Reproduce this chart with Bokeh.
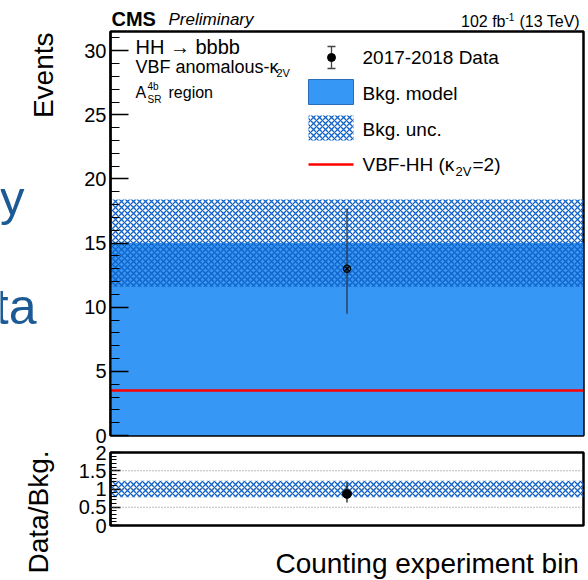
import math
from bokeh.plotting import figure
from bokeh.models import Range1d, SingleIntervalTicker, NumeralTickFormatter, Label, Span
from bokeh.layouts import column, row
from bokeh.embed import file_html
from bokeh.resources import INLINE

# ---------------- data ----------------
bin_edges = [0.0, 1.0]
bkg_model = [15.0]
bkg_unc = [3.4]
data_obs = [13.0]
data_err_lo = [3.5]
data_err_hi = [4.7]
signal_vbf = [3.5]
ratio_ref_lines = [0.5, 1.0, 1.5]

# ---------------- layout constants (pixels of the 588x580 page) ----------------
W, H = 588, 580
LEFT_W = 70                 # strip left of the panels (y titles)
HEAD_H = 30                 # strip above the panels (CMS header)
FRAME_L, FRAME_R = 110, 583
MAIN_TOP, MAIN_BOT = 31, 435
MAIN_FIG_BOT = 445
RATIO_TOP, RATIO_BOT = 452, 525
RATIO_FIG_BOT = 537
Y_MAX = 31.5
R_MAX = 2.0
BASE_SHIFT = 0.34           # label anchor -> baseline correction (fraction of font size)

FONT = "Liberation Sans"
BLUE = "#3797f5"
HATCH = "#0f63c8"
TXT = "black"
HATCH_KW = dict(hatch_pattern="diagonal_cross", hatch_color=HATCH, hatch_scale=6, hatch_weight=1.3)

x0 = bin_edges[:-1]
x1 = bin_edges[1:]
xc = [(a + b) / 2 for a, b in zip(x0, x1)]


def mx(px):
    return (px - FRAME_L) / (FRAME_R - FRAME_L)


def my(py):
    return (MAIN_BOT - py) / (MAIN_BOT - MAIN_TOP) * Y_MAX


def lab(fig, conv, px, py, text, size, align="left", style="normal", color=TXT, rotated=False):
    """px, py: page pixel position of the text baseline start/end."""
    if rotated:
        px -= BASE_SHIFT * size
    else:
        py -= BASE_SHIFT * size
    x, y = conv(px, py)
    fig.add_layout(Label(x=x, y=y, text=text, text_font=FONT, text_font_size=f"{size}px",
                         text_font_style=style, text_color=color, text_align=align,
                         text_baseline="alphabetic", angle=math.pi / 2 if rotated else 0.0))


def text_fig(w, h):
    f = figure(width=w, height=h, output_backend="svg", toolbar_location=None, title=None,
               x_axis_location=None, y_axis_location=None,
               x_range=Range1d(0, w), y_range=Range1d(0, h), min_border=0)
    f.grid.visible = False
    f.outline_line_color = None
    return f


def style_axis(ax, major_in, minor_in):
    ax.major_tick_in = major_in
    ax.major_tick_out = 0
    ax.minor_tick_in = minor_in
    ax.minor_tick_out = 0
    ax.axis_line_width = 2
    ax.axis_line_color = "black"
    ax.major_tick_line_color = "black"
    ax.minor_tick_line_color = "black"
    ax.major_tick_line_width = 1.5
    ax.minor_tick_line_width = 1.2
    ax.major_label_text_font = FONT
    ax.major_label_text_font_size = "20px"
    ax.major_label_text_color = TXT
    ax.major_label_standoff = 4


PANEL_W = W - LEFT_W
main_conv = lambda px, py: (mx(px), my(py))
head_conv = lambda px, py: (px, HEAD_H - py)
left_conv = lambda px, py: (px, H - py)
bottom_conv = lambda px, py: (px - LEFT_W, H - py)

# ---------------- main panel ----------------
p = figure(width=PANEL_W, height=MAIN_FIG_BOT - HEAD_H, output_backend="svg", toolbar_location=None,
           title=None, x_axis_location=None,
           x_range=Range1d(0, 1), y_range=Range1d(0, Y_MAX),
           min_border_left=FRAME_L - LEFT_W, min_border_right=W - FRAME_R,
           min_border_top=MAIN_TOP - HEAD_H, min_border_bottom=MAIN_FIG_BOT - MAIN_BOT)
p.grid.visible = False
p.outline_line_color = "black"
p.outline_line_width = 2.5
p.outline_line_alpha = 1
p.yaxis.ticker = SingleIntervalTicker(interval=5, num_minor_ticks=5)
style_axis(p.yaxis[0], 18, 9)

unc_lo = [b - u for b, u in zip(bkg_model, bkg_unc)]
unc_hi = [b + u for b, u in zip(bkg_model, bkg_unc)]

p.quad(left=x0, right=x1, bottom=[0] * len(x0), top=bkg_model,
       fill_color=BLUE, line_color=None)
p.quad(left=x0, right=x1, bottom=unc_lo, top=unc_hi, fill_alpha=0, line_color=None, **HATCH_KW)

sx, sy = [], []
for a, b, s in zip(x0, x1, signal_vbf):
    sx += [a, a, b]
    sy += [0, s, s]
p.line(sx, sy, line_color="red", line_width=2.5)

p.segment(xc, [d - e for d, e in zip(data_obs, data_err_lo)],
          xc, [d + e for d, e in zip(data_obs, data_err_hi)],
          line_color="#2b3448", line_width=1.3)
p.scatter(xc, data_obs, marker="circle_x", size=7, fill_alpha=0,
          line_color="black", line_width=1.3)

# legend (ROOT style, drawn by hand)
LX0, LX1 = mx(308), mx(353)
LXC = mx(331)
p.segment([LXC], [my(46)], [LXC], [my(68)], line_color="#444", line_width=1.3)
p.segment([mx(327), mx(327)], [my(46), my(68)], [mx(335), mx(335)], [my(46), my(68)],
          line_color="#444", line_width=1.3)
p.scatter([LXC], [my(57)], marker="circle", size=8, fill_color="black", line_color="black")
p.quad(left=[LX0], right=[LX1], top=[my(79)], bottom=[my(104)],
       fill_color=BLUE, line_color="#2a6cb8", line_width=1)
p.quad(left=[LX0], right=[LX1], top=[my(115)], bottom=[my(140)], fill_alpha=0,
       line_color=None, **HATCH_KW)
p.segment([LX0], [my(164)], [LX1], [my(164)], line_color="red", line_width=2.5)

lab(p, main_conv, 362, 63, "2017-2018 Data", 19)
lab(p, main_conv, 362, 99, "Bkg. model", 19)
lab(p, main_conv, 362, 135, "Bkg. unc.", 19)
lab(p, main_conv, 362, 170, "VBF-HH (κ", 19)
lab(p, main_conv, 455, 175, "2V", 13)
lab(p, main_conv, 472, 170, "=2)", 19)

# in-frame text
lab(p, main_conv, 135, 53, "HH → bbbb", 20)
lab(p, main_conv, 135, 73, "VBF anomalous-κ", 18)
lab(p, main_conv, 276, 76, "2V", 11)
lab(p, main_conv, 135, 97, "A", 16)
lab(p, main_conv, 147, 89, "4b", 10)
lab(p, main_conv, 147, 102, "SR", 10)
lab(p, main_conv, 168, 97, "region", 16)

# ---------------- ratio panel ----------------
r = figure(width=PANEL_W, height=RATIO_FIG_BOT - MAIN_FIG_BOT, output_backend="svg",
           toolbar_location=None, title=None, x_axis_location=None,
           x_range=p.x_range, y_range=Range1d(0, R_MAX),
           min_border_left=FRAME_L - LEFT_W, min_border_right=W - FRAME_R,
           min_border_top=RATIO_TOP - MAIN_FIG_BOT, min_border_bottom=RATIO_FIG_BOT - RATIO_BOT)
r.grid.visible = False
r.outline_line_color = "black"
r.outline_line_width = 2.5
r.outline_line_alpha = 1
r.yaxis.ticker = SingleIntervalTicker(interval=0.5, num_minor_ticks=5)
r.yaxis.formatter = NumeralTickFormatter(format="0.[0]")
style_axis(r.yaxis[0], 10, 6)

for v in ratio_ref_lines:
    r.add_layout(Span(location=v, dimension="width", line_color="#777777",
                      line_dash="1 2", line_width=1))

rel_lo = [1 - u / b for b, u in zip(bkg_model, bkg_unc)]
rel_hi = [1 + u / b for b, u in zip(bkg_model, bkg_unc)]
r.quad(left=x0, right=x1, bottom=rel_lo, top=rel_hi, fill_alpha=0, line_color=None, **HATCH_KW)

ratio = [d / b for d, b in zip(data_obs, bkg_model)]
ratio_lo = [(d - e) / b for d, e, b in zip(data_obs, data_err_lo, bkg_model)]
ratio_hi = [(d + e) / b for d, e, b in zip(data_obs, data_err_hi, bkg_model)]
r.segment(xc, ratio_lo, xc, ratio_hi, line_color="black", line_width=1.2)
r.scatter(xc, ratio, marker="circle", size=9, fill_color="black", line_color="black")

# ---------------- text strips ----------------
head = text_fig(W, HEAD_H)
lab(head, head_conv, 111, 25, "CMS", 20, style="bold")
lab(head, head_conv, 168, 25, "Preliminary", 17, style="italic")
lab(head, head_conv, 505, 26, "102 fb", 16, align="right")
lab(head, head_conv, 505, 20, "-1", 10)
lab(head, head_conv, 519, 26, "(13 TeV)", 16)

left = text_fig(LEFT_W, H - HEAD_H)
lab(left, left_conv, 53, 32, "Events", 28, align="right", rotated=True)
lab(left, left_conv, 48, 450, "Data/Bkg.", 28, align="right", rotated=True)
lab(left, left_conv, 24, 214, "y", 49, align="right", color="#1c5a96")
lab(left, left_conv, 36, 323, "ta", 50, align="right", color="#1c5a96")

bottom = text_fig(PANEL_W, H - RATIO_FIG_BOT)
lab(bottom, bottom_conv, FRAME_R, 573, "Counting experiment bin", 28, align="right")

layout = column(head, row(left, column(p, r, bottom, spacing=0), spacing=0), spacing=0)
open("out.html", "w").write(file_html(layout, INLINE))
